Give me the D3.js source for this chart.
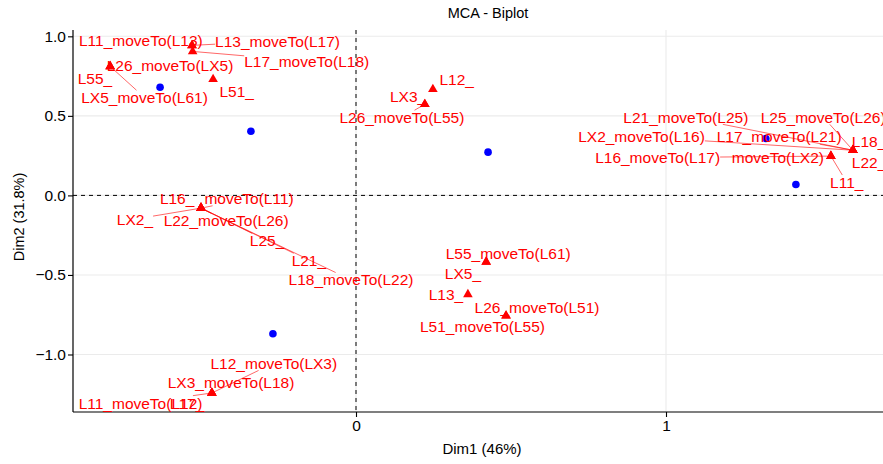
<!DOCTYPE html>
<html><head><meta charset="utf-8">
<script src="https://cdn.jsdelivr.net/npm/d3@7"></script>
<style>
body{margin:0;background:#fff}
svg{display:block}
text{font-family:"Liberation Sans",Arial,Helvetica,sans-serif}
</style>
</head><body>
<svg id="chart" width="883" height="464"></svg>
<script>
// Individuals (blue points)
const indX = [-0.632, -0.339, 0.426, 1.322, 1.419, -0.268];
const indY = [0.680, 0.403, 0.272, 0.358, 0.069, -0.870];

// Variable categories (red triangles) and their repelled label positions
const catNames = [
  "L11_moveTo(L13)","L13_moveTo(L17)","L17_moveTo(L18)",
  "L26_moveTo(LX5)","L55_","LX5_moveTo(L61)","L51_",
  "L12_","LX3_","L26_moveTo(L55)",
  "L21_moveTo(L25)","L25_moveTo(L26)","LX2_moveTo(L16)","L17_moveTo(L21)","L18_","L22_",
  "L16_moveTo(L17)","moveTo(LX2)","L11_",
  "L16_","moveTo(L11)","LX2_","L22_moveTo(L26)","L25_","L21_","L18_moveTo(L22)",
  "L55_moveTo(L61)","LX5_","L13_","L26_moveTo(L51)","L51_moveTo(L55)",
  "L12_moveTo(LX3)","LX3_moveTo(L18)","L11_moveTo(L12)","L17_"
];
const catX = [
  -0.529,-0.529,-0.527,
  -0.793,-0.793,-0.793,-0.461,
  0.248,0.222,0.222,
  1.603,1.603,1.603,1.603,1.603,1.603,
  1.532,1.532,1.532,
  -0.500,-0.500,-0.500,-0.500,-0.500,-0.500,-0.500,
  0.420,0.420,0.361,0.484,0.484,
  -0.465,-0.465,-0.465,-0.465
];
const catY = [
  0.943,0.943,0.905,
  0.811,0.811,0.811,0.730,
  0.667,0.573,0.573,
  0.284,0.284,0.284,0.284,0.284,0.284,
  0.247,0.247,0.247,
  -0.080,-0.080,-0.080,-0.080,-0.080,-0.080,-0.080,
  -0.418,-0.418,-0.622,-0.757,-0.757,
  -1.242,-1.242,-1.242,-1.242
];
const labX = [
  -0.694,-0.253,-0.159,
  -0.600,-0.842,-0.682,-0.385,
  0.325,0.168,0.148,
  1.064,1.507,0.921,1.365,1.655,1.655,
  0.973,1.361,1.583,
  -0.577,-0.345,-0.713,-0.419,-0.287,-0.152,-0.016,
  0.491,0.345,0.290,0.584,0.408,
  -0.265,-0.403,-0.695,-0.545
];
const labY = [
  0.974,0.971,0.844,
  0.819,0.734,0.615,0.656,
  0.730,0.623,0.489,
  0.493,0.493,0.368,0.368,0.341,0.209,
  0.238,0.238,0.082,
  -0.019,-0.019,-0.149,-0.159,-0.285,-0.410,-0.531,
  -0.366,-0.492,-0.624,-0.701,-0.824,
  -1.054,-1.178,-1.305,-1.305
];

const xTicks = [0, 1];
const yTicks = [-1, -0.5, 0, 0.5, 1];
const titleText = "MCA - Biplot";
const xTitle = "Dim1 (46%)";
const yTitle = "Dim2 (31.8%)";

const svg = d3.select("#chart");
const panel = {left: 73, right: 898, top: 30, bottom: 412};
const x = d3.scaleLinear().domain([-1, 2]).range([46, 976]);
const y = d3.scaleLinear().domain([-1.3615, 1.0397]).range([panel.bottom, panel.top]);

const red = "#FF0000", blue = "#0000FF";
const labelSize = 15.5;

// grid
const g = svg.append("g");
g.selectAll(".gx").data(xTicks).join("line")
  .attr("x1", d => x(d)).attr("x2", d => x(d))
  .attr("y1", panel.top).attr("y2", panel.bottom)
  .attr("stroke", "#EBEBEB").attr("stroke-width", 1.1);
g.selectAll(".gy").data(yTicks).join("line")
  .attr("y1", d => y(d)).attr("y2", d => y(d))
  .attr("x1", panel.left).attr("x2", panel.right)
  .attr("stroke", "#EBEBEB").attr("stroke-width", 1.1);

// reference dashed lines
g.append("line").attr("x1", panel.left).attr("x2", panel.right)
  .attr("y1", y(0)).attr("y2", y(0))
  .attr("stroke", "#000").attr("stroke-width", 1).attr("stroke-dasharray", "4,4");
g.append("line").attr("x1", x(0)).attr("x2", x(0))
  .attr("y1", panel.top).attr("y2", panel.bottom)
  .attr("stroke", "#000").attr("stroke-width", 1).attr("stroke-dasharray", "4,4");

// axes
const yAxis = d3.axisLeft(y).tickValues(yTicks).tickFormat(d3.format(".1f")).tickSizeOuter(0).tickSize(5).tickPadding(2);
const ya = svg.append("g").attr("transform", `translate(${panel.left},0)`).call(yAxis);
const xAxis = d3.axisBottom(x).tickValues(xTicks).tickFormat(d3.format("d")).tickSizeOuter(0).tickSize(5).tickPadding(3);
const xa = svg.append("g").attr("transform", `translate(0,${panel.bottom})`).call(xAxis);
[ya, xa].forEach(a => {
  a.select(".domain").attr("stroke", "#000").attr("stroke-width", 1.2);
  a.selectAll(".tick line").attr("stroke", "#000").attr("stroke-width", 1.1);
  a.selectAll(".tick text").attr("fill", "#000").style("font-size", "15.5px")
    .style("font-family", '"Liberation Sans",Arial,Helvetica,sans-serif');
});
ya.select(".domain").attr("d", `M0,${panel.top}V${panel.bottom}`);
xa.select(".domain").attr("d", `M${panel.left},0H${panel.right}`);

// blue individuals
svg.append("g").selectAll("circle").data(indX).join("circle")
  .attr("cx", (d, i) => x(indX[i])).attr("cy", (d, i) => y(indY[i]))
  .attr("r", 3.8).attr("fill", blue);

// labels (measure first)
const labG = svg.append("g");
const segG = svg.insert("g", () => labG.node());
const texts = labG.selectAll("text").data(catNames).join("text")
  .attr("x", (d, i) => x(labX[i])).attr("y", (d, i) => y(labY[i]))
  .attr("dy", "0.36em").attr("text-anchor", "middle")
  .attr("fill", red).style("font-size", labelSize + "px")
  .text(d => d);

// segments
texts.each(function(d, i) {
  const w = this.getComputedTextLength();
  const h = labelSize * 0.95;
  const cx = x(labX[i]), cy = y(labY[i]);
  const px = x(catX[i]), py = y(catY[i]);
  const dx = px - cx, dy = py - cy;
  if (Math.abs(dx) <= w / 2 && Math.abs(dy) <= h / 2) return;
  const s = Math.min(dx === 0 ? Infinity : (w / 2) / Math.abs(dx), dy === 0 ? Infinity : (h / 2) / Math.abs(dy));
  const ex = cx + s * dx, ey = cy + s * dy;
  const len = Math.hypot(px - ex, py - ey);
  if (len < 10) return;
  segG.append("line").attr("x1", px).attr("y1", py).attr("x2", ex).attr("y2", ey)
    .attr("stroke", red).attr("stroke-width", 0.6);
});

// triangles
const tri = d3.symbol().type(d3.symbolTriangle).size(40);
svg.insert("g", () => labG.node()).selectAll("path").data(catX).join("path")
  .attr("d", tri)
  .attr("transform", (d, i) => `translate(${x(catX[i])},${y(catY[i])})`)
  .attr("fill", red);

// titles
svg.append("text").attr("x", 488).attr("y", 13).attr("dy", "0.36em")
  .attr("text-anchor", "middle").style("font-size", "14.5px").attr("fill", "#000").text(titleText);
svg.append("text").attr("x", 482).attr("y", 449).attr("dy", "0.36em")
  .attr("text-anchor", "middle").style("font-size", "15px").attr("fill", "#000").text(xTitle);
svg.append("text").attr("transform", "translate(19,217) rotate(-90)").attr("dy", "0.36em")
  .attr("text-anchor", "middle").style("font-size", "14.5px").attr("fill", "#000").text(yTitle);
</script>
</body></html>
